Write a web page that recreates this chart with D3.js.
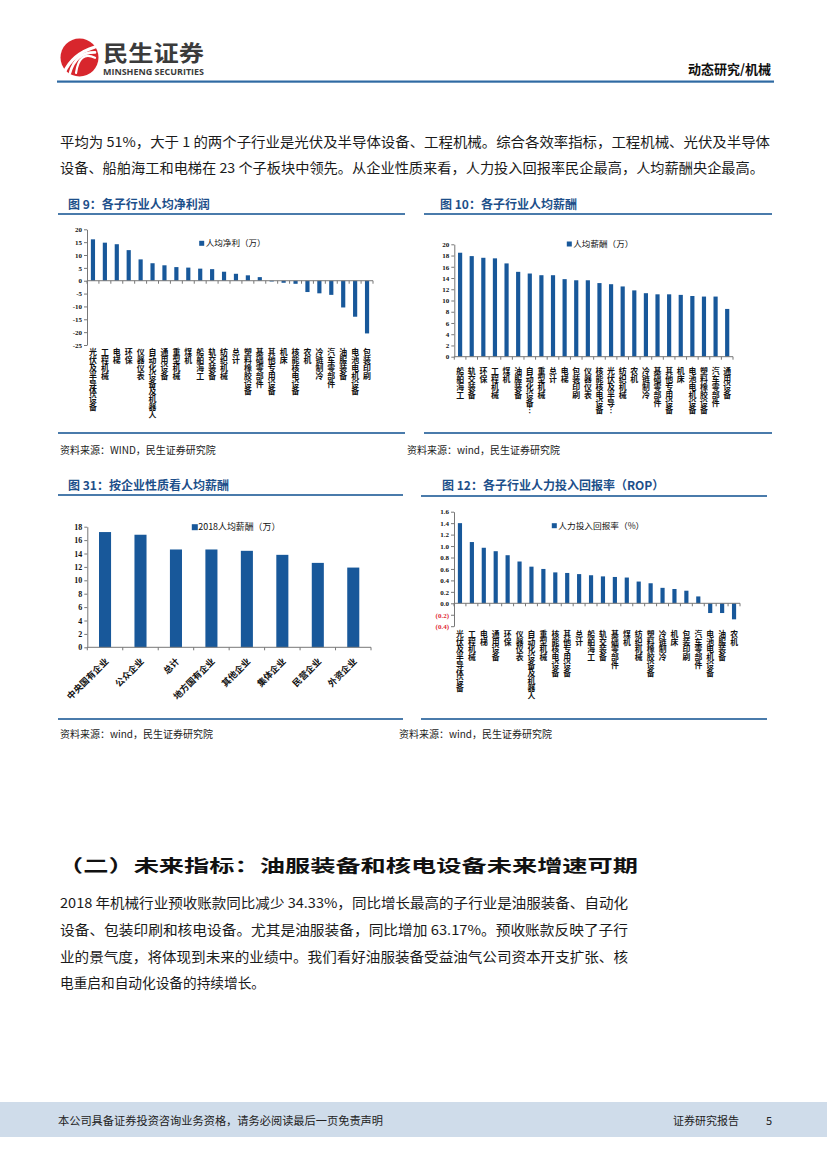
<!DOCTYPE html>
<html><head><meta charset="utf-8">
<script src="https://cdn.jsdelivr.net/npm/d3@7"></script>
<style>
body{margin:0;background:#fff;}
svg{display:block;font-family:"Noto Sans CJK SC","Noto Sans",sans-serif;}
.vt{writing-mode:vertical-rl;text-orientation:upright;}
</style></head><body>
<svg id="page" width="827" height="1169"></svg>
<script>
// ---------------- DATA ----------------
const cats9 = ['光伏及半导体设备','工程机械','电梯','环保','仪器仪表','自动化设备及机器人','通用设备','重型机械','煤机','船舶海工','轨交装备','纺织机械','总计','塑料橡胶设备','基础零部件','其他专用设备','机床','核能核电设备','农机','冷链制冷','汽车零部件','油服装备','电池电机设备','包装印刷'];
const vals9 = [16.1,14.8,14.2,11.9,8.3,6.8,6.0,5.3,5.1,4.7,4.5,3.5,2.7,2.1,1.4,-0.3,-0.8,-1.2,-4.4,-4.9,-5.5,-10.4,-14.0,-20.5];
const ticks9 = [20,15,10,5,0,-5,-10,-15,-20,-25];

const cats10 = ['船舶海工','轨交装备','环保','工程机械','煤机','油服装备','自动化设备…','重型机械','总计','电梯','包装印刷','仪器仪表','核能核电设备','光伏及半导…','纺织机械','农机','冷链制冷','基础零部件','其他专用设备','机床','电池电机设备','塑料橡胶设备','汽车零部件','通用设备'];
const vals10 = [18.5,17.9,17.6,17.5,16.6,15.1,14.8,14.5,14.5,13.8,13.6,13.6,13.1,12.9,12.5,11.8,11.3,11.1,11.1,11.0,10.8,10.7,10.7,8.5];
const ticks10 = [0,2,4,6,8,10,12,14,16,18,20];

const cats31 = ['中央国有企业','公众企业','总计','地方国有企业','其他企业','集体企业','民营企业','外资企业'];
const vals31 = [17.2,16.8,14.6,14.6,14.4,13.8,12.6,11.9];
const ticks31 = [0,2,4,6,8,10,12,14,16,18];

const cats12 = ['光伏及半导体设备','工程机械','电梯','通用设备','环保','仪器仪表','自动化设备及机器人','重型机械','核能核电设备','其他专用设备','总计','船舶海工','轨交装备','基础零部件','煤机','纺织机械','塑料橡胶设备','冷链制冷','机床','包装印刷','汽车零部件','电池电机设备','油服装备','农机'];
const vals12 = [1.40,1.07,0.97,0.91,0.84,0.73,0.64,0.60,0.54,0.53,0.51,0.49,0.47,0.46,0.45,0.38,0.35,0.27,0.25,0.22,0.12,-0.17,-0.17,-0.28];
const ticks12 = [1.6,1.4,1.2,1.0,0.8,0.6,0.4,0.2,0.0,-0.2,-0.4];

// ---------------- STYLE ----------------
const svg = d3.select('#page');
const BAR = '#18589a';
const TITLE = '#1d4f8a';
const RULE = '#4a7bab';
const NUM = '"Liberation Serif","Times New Roman",serif';

// ---------------- HEADER ----------------
svg.append('circle').attr('cx',79.5).attr('cy',57.5).attr('r',19).attr('fill','#d8262d');
[[0,3.2],[6,2.6],[12,2.2]].forEach(([o,w])=>{
  svg.append('path').attr('d',`M${64+o},${73} Q${72+o*0.6},${54-o*0.3} ${95},${47+o*0.9}`)
    .attr('fill','none').attr('stroke','#fff').attr('stroke-width',w).attr('stroke-linecap','round');
});
svg.append('text').attr('x',103).attr('y',60.5).attr('font-size',22).attr('font-weight',700)
  .attr('fill','#3b3b3b').attr('textLength',101).attr('lengthAdjust','spacingAndGlyphs').text('民生证券');
svg.append('text').attr('x',103).attr('y',75).attr('font-family','"Open Sans","Noto Sans",sans-serif').attr('font-size',8).attr('font-weight',700)
  .attr('fill','#3b3b3b').attr('textLength',101).attr('lengthAdjust','spacingAndGlyphs').text('MINSHENG SECURITIES');
svg.append('text').attr('x',771).attr('y',74).attr('text-anchor','end').attr('font-size',13).attr('font-weight',700)
  .attr('fill','#111').text('动态研究/机械');
svg.append('rect').attr('x',57).attr('y',80.5).attr('width',717).attr('height',2.2).attr('fill','#2f6aa3');

// ---------------- PARAGRAPH ----------------
const para1 = [
  ['平均为 51%，大于 1 的两个子行业是光伏及半导体设备、工程机械。综合各效率指标，工程机械、光伏及半导体',60,147,710],
  ['设备、船舶海工和电梯在 23 个子板块中领先。从企业性质来看，人力投入回报率民企最高，人均薪酬央企最高。',60,173,704]
];
para1.forEach(([t,x,y,w])=>svg.append('text').attr('x',x).attr('y',y).attr('font-size',13.5)
  .attr('fill','#1a1a1a').attr('textLength',w).attr('lengthAdjust','spacingAndGlyphs').text(t));

// ---------------- CHART HELPERS ----------------
function frame(title, tx, ty, x1, x2, lineTop, lineBot, src, sx, sy){
  svg.append('text').attr('x',tx).attr('y',ty).attr('font-size',12).attr('font-weight',700).attr('fill',TITLE).text(title);
  svg.append('rect').attr('x',x1).attr('y',lineTop-1).attr('width',x2-x1).attr('height',2).attr('fill',RULE);
  svg.append('rect').attr('x',x1).attr('y',lineBot-1).attr('width',x2-x1).attr('height',2).attr('fill',RULE);
  svg.append('text').attr('x',sx).attr('y',sy).attr('font-size',10).attr('fill','#222').text(src);
}

function chart(o){
  const g = svg.append('g');
  const x = d3.scaleBand().domain(o.cats).range(o.xr).paddingInner(o.pad).paddingOuter(o.pad/2);
  const y = d3.scaleLinear().domain(o.yd).range(o.yr);
  g.selectAll('rect.bar').data(o.vals).join('rect').attr('class','bar')
    .attr('x',(d,i)=>x(o.cats[i])).attr('width',x.bandwidth())
    .attr('y',d=>y(Math.max(0,d))).attr('height',d=>Math.abs(y(d)-y(0)))
    .attr('fill',BAR);
  const ya = g.append('g').attr('transform',`translate(${o.xr[0]},0)`)
    .call(d3.axisLeft(y).tickValues(o.ticks).tickSize(3).tickSizeOuter(0).tickPadding(2).tickFormat(o.fmt||(d=>d)));
  ya.select('.domain').attr('stroke','#777');
  ya.selectAll('.tick line').attr('stroke','#777');
  ya.selectAll('.tick text').attr('font-family',NUM).attr('font-weight',700).attr('font-size',o.tfs)
    .attr('fill',d=>d<0&&o.redNeg?'#e02b35':'#111');
  const base = y(o.base);
  g.append('line').attr('x1',o.xr[0]).attr('x2',o.xr[1]).attr('y1',base).attr('y2',base).attr('stroke','#777');
  const step = x.step();
  const x0 = o.xr[0] + (o.xr[1]-o.xr[0] - step*o.cats.length)/2;
  g.selectAll('line.xt').data(d3.range(o.cats.length+1)).join('line').attr('class','xt')
    .attr('x1',i=>x0+i*step).attr('x2',i=>x0+i*step).attr('y1',base).attr('y2',base+3).attr('stroke','#777');
  if(o.vertical){
    g.selectAll('text.xl').data(o.cats).join('text').attr('class','xl vt')
      .attr('x',c=>x(c)+x.bandwidth()/2).attr('y',o.ltop)
      .attr('font-size',o.lfs).attr('font-weight',700).attr('fill','#111')
      .text(c=>c);
  } else {
    g.selectAll('text.xl').data(o.cats).join('text').attr('class','xl')
      .attr('font-size',o.lfs).attr('font-weight',700).attr('fill','#111').attr('text-anchor','end')
      .attr('transform',c=>`translate(${x(c)+x.bandwidth()/2+4},${o.ltop}) rotate(-45)`).text(c=>c);
  }
  g.append('rect').attr('x',o.lg[0]-2.5).attr('y',o.lg[1]-2.5).attr('width',o.lg[4]||5).attr('height',o.lg[4]||5).attr('fill',BAR);
  g.append('text').attr('x',o.lg[0]+4).attr('y',o.lg[1]+3).attr('font-size',o.lg[5]||8.5).attr('fill','#111')
    .attr('textLength',o.lg[3]).attr('lengthAdjust','spacingAndGlyphs').text(o.lg[2]);
}

// ---------------- CHART 9 ----------------
frame('图 9：各子行业人均净利润',68,208.5,58,405,214,433,'资料来源：WIND，民生证券研究院',60,454);
chart({cats:cats9,vals:vals9,xr:[87,373],yd:[-25,20],yr:[345,229.3],ticks:ticks9,pad:0.65,tfs:7,base:0,
  vertical:true,ltop:348,lfs:7.9,lg:[201.7,243.3,'人均净利（万）',60]});

// ---------------- CHART 10 ----------------
frame('图 10：各子行业人均薪酬',440,208.5,424,772,214,433,'资料来源：wind，民生证券研究院',407,454);
chart({cats:cats10,vals:vals10,xr:[454.3,733],yd:[0,20],yr:[356.7,244.3],ticks:ticks10,pad:0.64,tfs:7,base:0,
  vertical:true,ltop:367,lfs:7.9,lg:[569.3,244,'人均薪酬（万）',60]});

// ---------------- CHART 31 ----------------
frame('图 31：按企业性质看人均薪酬',68,489.5,58,403,495,719,'资料来源：wind，民生证券研究院',60,738);
chart({cats:cats31,vals:vals31,xr:[87.3,371],yd:[0,18],yr:[647.3,526.7],ticks:ticks31,pad:0.66,tfs:8,base:0,
  vertical:false,ltop:662,lfs:9,lg:[194.3,526.7,'2018人均薪酬（万）',82,6,9]});

// ---------------- CHART 12 ----------------
frame('图 12：各子行业人力投入回报率（ROP）',442,489.5,421,767,496,719,'资料来源：wind，民生证券研究院',399,738);
chart({cats:cats12,vals:vals12,xr:[454,740],yd:[-0.4,1.6],yr:[626.2,511.7],ticks:ticks12,pad:0.65,tfs:7,base:0,redNeg:true,
  fmt:d=>d<0?`(${Math.abs(d).toFixed(1)})`:d.toFixed(1),
  vertical:true,ltop:630,lfs:7.8,lg:[554.3,525.7,'人力投入回报率（%）',86]});

// ---------------- SECTION 2 ----------------
svg.append('text').attr('x',58).attr('y',872).attr('font-size',17.5).attr('font-weight',700).attr('fill','#111')
  .attr('textLength',580).attr('lengthAdjust','spacingAndGlyphs').text('（二）未来指标：油服装备和核电设备未来增速可期');
const para2 = [
  ['2018 年机械行业预收账款同比减少 34.33%，同比增长最高的子行业是油服装备、自动化',908,568],
  ['设备、包装印刷和核电设备。尤其是油服装备，同比增加 63.17%。预收账款反映了子行',935,568],
  ['业的景气度，将体现到未来的业绩中。我们看好油服装备受益油气公司资本开支扩张、核',962,568],
  ['电重启和自动化设备的持续增长。',988,205]
];
para2.forEach(([t,y,w])=>svg.append('text').attr('x',60).attr('y',y).attr('font-size',13.5).attr('fill','#1a1a1a')
  .attr('textLength',w).attr('lengthAdjust','spacingAndGlyphs').text(t));

// ---------------- FOOTER ----------------
svg.append('rect').attr('x',0).attr('y',1102).attr('width',827).attr('height',35).attr('fill','#cfdcea');
svg.append('text').attr('x',58).attr('y',1125).attr('font-size',11).attr('fill','#222')
  .attr('textLength',325).attr('lengthAdjust','spacingAndGlyphs').text('本公司具备证券投资咨询业务资格，请务必阅读最后一页免责声明');
svg.append('text').attr('x',673).attr('y',1125).attr('font-size',11).attr('fill','#222').text('证券研究报告');
svg.append('text').attr('x',769).attr('y',1125).attr('font-size',11).attr('fill','#222').attr('text-anchor','middle').text('5');
</script>
</body></html>
